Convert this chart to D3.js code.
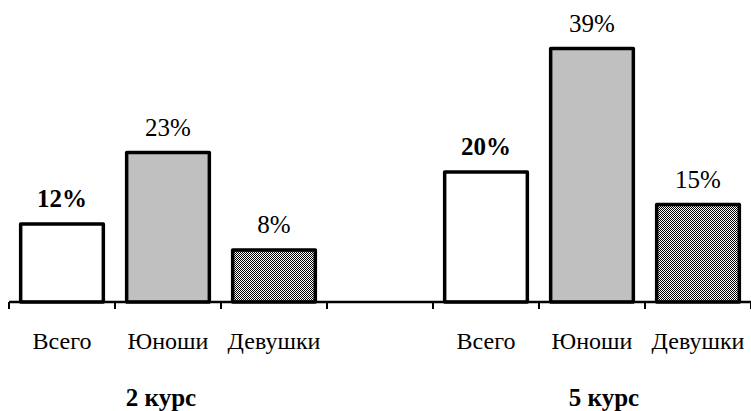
<!DOCTYPE html>
<html>
<head>
<meta charset="utf-8">
<script src="https://cdn.jsdelivr.net/npm/d3@7"></script>
<style>
  html, body { margin: 0; padding: 0; background: #fff; }
  svg { display: block; }
</style>
</head>
<body>
<svg id="chart" width="751" height="411"></svg>
<script>
// Share of students, by course and by sex (%)
const courses = ["2 курс", "5 курс"];
const categories = ["Всего", "Юноши", "Девушки"];
const course2Values = [12, 23, 8];
const course5Values = [20, 39, 15];
const categoryFills = ["#ffffff", "#c0c0c0", "url(#checker)"];

const FONT = "'Liberation Serif', Tinos, 'Times New Roman', serif";

// One slot per bar plus an empty slot separating the two courses
const slots = [];
courses.forEach((c, gi) => {
  const vals = gi === 0 ? course2Values : course5Values;
  categories.forEach((cat, ci) => slots.push({ key: c + "|" + cat, course: c, cat, ci, value: vals[ci] }));
  if (gi === 0) slots.push({ key: "gap", course: null });
});

const svg = d3.select("#chart");

const defs = svg.append("defs");
const pat = defs.append("pattern")
  .attr("id", "checker").attr("width", 2).attr("height", 2)
  .attr("patternUnits", "userSpaceOnUse");
pat.append("rect").attr("width", 2).attr("height", 2).attr("fill", "#fff");
pat.append("rect").attr("x", 0).attr("y", 0).attr("width", 1).attr("height", 1).attr("fill", "#000");
pat.append("rect").attr("x", 1).attr("y", 1).attr("width", 1).attr("height", 1).attr("fill", "#000");

const x = d3.scaleBand()
  .domain(slots.map(d => d.key))
  .range([9, 751])
  .paddingInner(0.22)
  .paddingOuter(0.11);

const y = d3.scaleLinear().domain([0, 40]).range([302, 42]);

const bars = slots.filter(d => d.course);

svg.append("g").selectAll("rect")
  .data(bars)
  .join("rect")
  .attr("x", d => x(d.key))
  .attr("y", d => y(d.value))
  .attr("width", x.bandwidth())
  .attr("height", d => y(0) - y(d.value))
  .attr("fill", d => categoryFills[d.ci])
  .attr("stroke", "#000")
  .attr("stroke-width", 3.5)
  .attr("stroke-linejoin", "round");

// Category axis: baseline with ticks at slot boundaries
const step = x.step();
const x0 = x.range()[0];
const axis = svg.append("g");
axis.append("line")
  .attr("x1", x0).attr("x2", x.range()[1])
  .attr("y1", y(0)).attr("y2", y(0))
  .attr("stroke", "#000").attr("stroke-width", 2.5);
axis.selectAll("line.tick")
  .data(d3.range(slots.length + 1))
  .join("line")
  .attr("class", "tick")
  .attr("x1", i => x0 + i * step).attr("x2", i => x0 + i * step)
  .attr("y1", y(0)).attr("y2", y(0) + 7)
  .attr("stroke", "#000").attr("stroke-width", 2);

// Value labels
svg.append("g").selectAll("text")
  .data(bars)
  .join("text")
  .attr("x", d => x(d.key) + x.bandwidth() / 2)
  .attr("y", d => y(d.value) - 17)
  .attr("text-anchor", "middle")
  .attr("font-family", FONT)
  .attr("font-size", 25)
  .attr("font-weight", d => d.ci === 0 ? "bold" : "normal")
  .text(d => d.value + "%");

// Category labels
svg.append("g").selectAll("text")
  .data(bars)
  .join("text")
  .attr("x", d => x(d.key) + x.bandwidth() / 2)
  .attr("y", 349)
  .attr("text-anchor", "middle")
  .attr("font-family", FONT)
  .attr("font-size", 24)
  .text(d => d.cat);

// Course labels, below each group's middle bar
const courseShift = [-7, 12];
svg.append("g").selectAll("text")
  .data(courses)
  .join("text")
  .attr("x", (c, i) => x(c + "|" + categories[1]) + x.bandwidth() / 2 + courseShift[i])
  .attr("y", 406)
  .attr("text-anchor", "middle")
  .attr("font-family", FONT)
  .attr("font-size", 25)
  .attr("font-weight", "bold")
  .text(c => c);
</script>
</body>
</html>
